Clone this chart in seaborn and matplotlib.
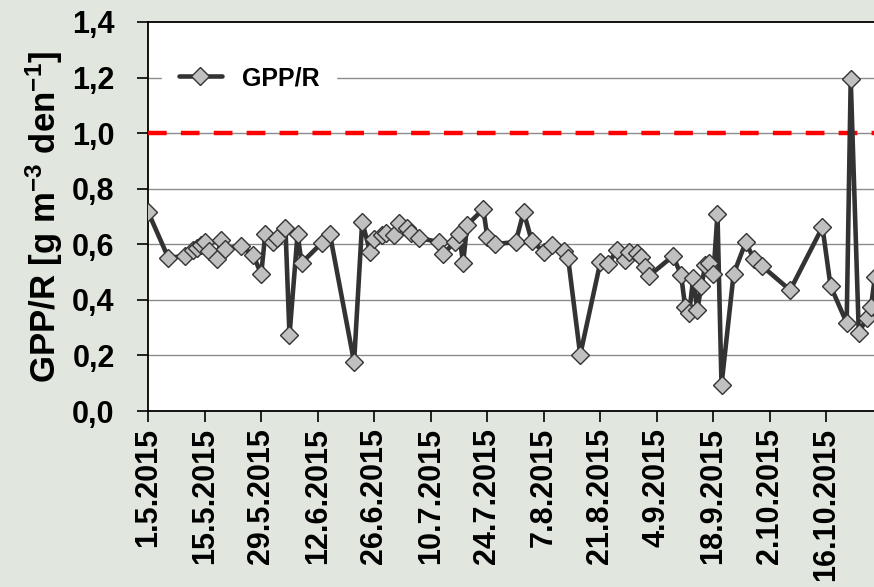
import numpy as np
import pandas as pd
import matplotlib
matplotlib.use("Agg")
import matplotlib.pyplot as plt
import seaborn as sns

# ---- data ----
start = "2015-05-01"
day_offsets = [0, 5, 9, 11, 12, 13, 14, 15, 17, 18, 19, 23, 26, 28, 29, 31, 32, 34, 35, 37,
               38, 43, 45, 51, 53, 55, 56, 58, 59, 61, 62, 64, 65, 67, 72, 73, 76, 77, 78, 79,
               83, 84, 86, 91, 93, 95, 98, 100, 103, 104, 107, 112, 114, 116, 118, 119, 121, 122, 123, 124,
               130, 132, 133, 134, 135, 136, 137, 138, 139, 140, 141, 142, 145, 148, 150, 152, 159, 167, 169, 173,
               174, 176, 178, 179, 180]
gpp_r = [0.716, 0.551, 0.558, 0.579, 0.587, 0.597, 0.608, 0.576, 0.547, 0.615,
         0.583, 0.594, 0.561, 0.493, 0.637, 0.608, 0.623, 0.659, 0.273, 0.637,
         0.533, 0.605, 0.637, 0.176, 0.680, 0.572, 0.619, 0.633, 0.641, 0.633,
         0.677, 0.659, 0.641, 0.623, 0.608, 0.565, 0.608, 0.637, 0.533, 0.669,
         0.727, 0.626, 0.601, 0.608, 0.716, 0.612, 0.572, 0.597, 0.576, 0.551,
         0.202, 0.536, 0.529, 0.579, 0.543, 0.572, 0.569, 0.554, 0.518, 0.486,
         0.558, 0.489, 0.374, 0.353, 0.479, 0.363, 0.450, 0.525, 0.533, 0.493,
         0.709, 0.094, 0.493, 0.608, 0.547, 0.522, 0.435, 0.662, 0.450, 0.317,
         1.195, 0.281, 0.335, 0.374, 0.482]
tick_labels = ["1.5.2015", "15.5.2015", "29.5.2015", "12.6.2015", "26.6.2015", "10.7.2015",
               "24.7.2015", "7.8.2015", "21.8.2015", "4.9.2015", "18.9.2015", "2.10.2015", "16.10.2015"]
y_ticks = [0.0, 0.2, 0.4, 0.6, 0.8, 1.0, 1.2, 1.4]
threshold = 1.0
series_name = "GPP/R"

dates = pd.Timestamp(start) + pd.to_timedelta(day_offsets, unit="D")
df = pd.DataFrame({"date": dates, series_name: gpp_r})
tick_dates = pd.to_datetime(tick_labels, format="%d.%m.%Y")

# ---- style ----
sns.set_theme(style="white")
plt.rcParams['font.family'] = ['Liberation Sans', 'DejaVu Sans']
plt.rcParams['font.weight'] = 'bold'
plt.rcParams['text.color'] = 'black'
plt.rcParams['axes.labelcolor'] = 'black'
plt.rcParams['xtick.color'] = 'black'
plt.rcParams['ytick.color'] = 'black'
plt.rcParams['mathtext.fontset'] = 'custom'
plt.rcParams['mathtext.rm'] = 'Liberation Sans:bold'
plt.rcParams['mathtext.bf'] = 'Liberation Sans:bold'
plt.rcParams['mathtext.it'] = 'Liberation Sans:bold'
plt.rcParams['mathtext.default'] = 'bf'

bg = "#e1e6de"
fig = plt.figure(figsize=(8.74, 5.87), dpi=100, facecolor=bg)
ax = fig.add_axes([148/874, 1 - 411/587, 1 - 148/874 + 0.002, (411 - 22)/587])
ax.set_facecolor("white")

sns.lineplot(data=df, x="date", y=series_name, ax=ax, color="#333333", linewidth=3.3,
             marker="D", markersize=9.5, markerfacecolor="#c0c0c0", markeredgecolor="#333333",
             markeredgewidth=1.0, label=series_name, zorder=5)

ax.axhline(threshold, color="#ff0000", linewidth=3.2, linestyle=(0, (4.2, 3.2)), zorder=3)

ax.set_ylim(0, 1.4)
xmin = pd.Timestamp(start)
ax.set_xlim(xmin - pd.Timedelta(hours=1), xmin + pd.Timedelta(days=180.2))
ax.set_yticks(y_ticks)
ax.set_yticklabels([f"{v:.1f}".replace(".", ",") for v in y_ticks], fontsize=22,
                   fontweight="bold", color="black")
ax.set_xticks(tick_dates)
ax.set_xticklabels(tick_labels, rotation=90, fontsize=22, fontweight="bold", color="black")

for y in y_ticks[1:-1]:
    ax.axhline(y, color="#8c8c8c", linewidth=1.0, zorder=1)

for s in ["left", "bottom", "top"]:
    ax.spines[s].set_color("black")
    ax.spines[s].set_linewidth(1.3)
ax.spines["right"].set_visible(False)
ax.tick_params(axis="both", direction="out", length=8, width=1.2, color="black", pad=4,
               left=True, bottom=True)
ax.tick_params(axis="y", length=8, pad=16)

ax.set_xlabel("")
ax.set_ylabel(r"GPP/R [g m$^{-3}$ den$^{-1}$]", fontsize=25, fontweight="bold",
              labelpad=5, color="black")

leg = ax.legend(loc="center left", bbox_to_anchor=(0.03, 0.856), frameon=True,
                handlelength=1.75, handletextpad=0.8, borderpad=0.35, borderaxespad=0,
                prop={"weight": "bold", "size": 18})
leg.get_frame().set_facecolor("white")
leg.get_frame().set_edgecolor("white")
leg.get_frame().set_alpha(1)
leg.get_frame().set_boxstyle("square")
for t in leg.get_texts():
    t.set_color("black")

fig.savefig("out.png", dpi=100, facecolor=bg)
